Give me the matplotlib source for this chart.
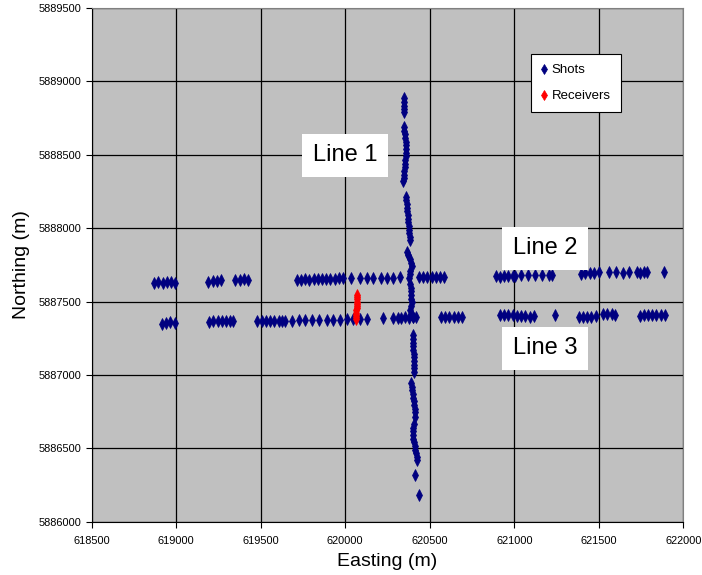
import matplotlib.pyplot as plt
from matplotlib.ticker import MultipleLocator
import numpy as np

# shot points along the three lines (easting, northing in metres)
line1_e = [620345, 620348, 620350, 620347, 620345,
           620347, 620350, 620352, 620355, 620357, 620358, 620360, 620360, 620358, 620356,
           620354, 620352, 620350, 620348, 620345, 620342,
           620358, 620360, 620362, 620364, 620366, 620368, 620370, 620372, 620374, 620376,
           620378, 620380, 620380,
           620365, 620372, 620380, 620390, 620395,
           620385, 620380, 620375, 620385, 620387, 620388, 620390, 620390, 620392, 620388,
           620385, 620390, 620400,
           620398, 620400, 620400, 620402, 620402, 620404, 620404, 620405, 620405, 620406, 620406,
           620388, 620392, 620396, 620400, 620402, 620405, 620408, 620410, 620413, 620415,
           620405, 620402, 620400, 620400, 620402, 620405, 620410, 620415, 620420, 620422, 620422,
           620410, 620437]
line1_n = [5888885, 5888860, 5888835, 5888810, 5888790,
           5888690, 5888665, 5888640, 5888615, 5888590, 5888565, 5888540, 5888515, 5888490, 5888465,
           5888440, 5888415, 5888390, 5888365, 5888340, 5888320,
           5888215, 5888190, 5888165, 5888140, 5888115, 5888090, 5888065, 5888040, 5888015, 5887990,
           5887965, 5887940, 5887920,
           5887840, 5887815, 5887790, 5887765, 5887740,
           5887710, 5887685, 5887660, 5887620, 5887595, 5887570, 5887545, 5887520, 5887495, 5887470,
           5887440, 5887415, 5887395,
           5887270, 5887245, 5887220, 5887195, 5887170, 5887145, 5887120, 5887095, 5887070, 5887045, 5887020,
           5886948, 5886920, 5886895, 5886870, 5886845, 5886820, 5886795, 5886770, 5886745, 5886715,
           5886668, 5886640, 5886615, 5886590, 5886565, 5886540, 5886515, 5886490, 5886465, 5886440, 5886418,
           5886320, 5886185]

line2_e = [618870, 618895, 618920, 618945, 618970, 618995,
           619190, 619215, 619240, 619265,
           619350, 619375, 619400, 619425,
           619712, 619737, 619762, 619787, 619812, 619837, 619862, 619887, 619912, 619937, 619962, 619988,
           620033, 620088, 620128, 620166, 620210, 620246, 620285, 620324,
           620435, 620460, 620485, 620510, 620535, 620560, 620585,
           620890, 620915, 620940, 620965, 620990, 621005,
           621039, 621078, 621121, 621161, 621204, 621224,
           621395, 621420, 621445, 621470,
           621503, 621558, 621601, 621645, 621680, 621724, 621745, 621765, 621787,
           621882]
line2_n = [5887625, 5887630, 5887628, 5887632, 5887630, 5887624,
           5887632, 5887638, 5887640, 5887644,
           5887645, 5887650, 5887652, 5887650,
           5887648, 5887650, 5887652, 5887650, 5887653, 5887655, 5887652, 5887655, 5887656, 5887655, 5887657, 5887658,
           5887660, 5887660, 5887660, 5887662, 5887660, 5887662, 5887662, 5887664,
           5887668, 5887670, 5887666, 5887668, 5887670, 5887668, 5887670,
           5887672, 5887670, 5887674, 5887672, 5887675, 5887676,
           5887680, 5887680, 5887682, 5887682, 5887684, 5887682,
           5887690, 5887693, 5887692, 5887694,
           5887698, 5887698, 5887698, 5887697, 5887698, 5887698, 5887697, 5887700, 5887698,
           5887700]

line3_e = [618915, 618940, 618965, 618990,
           619195, 619220, 619245, 619270, 619295, 619320, 619335,
           619480, 619505, 619530, 619555, 619580, 619605, 619625,
           619645, 619685, 619724, 619763, 619803, 619846, 619891, 619930, 619970, 620009, 620048, 620088, 620128,
           620225, 620284,
           620312, 620332, 620352, 620375, 620400, 620420,
           620565, 620590, 620615, 620640, 620665, 620690,
           620915, 620940, 620965, 620990, 621015, 621040, 621065, 621090, 621115,
           621243,
           621380, 621405, 621430, 621455, 621480,
           621525, 621550, 621575, 621593,
           621740, 621765, 621790, 621815, 621840, 621865, 621892]
line3_n = [5887350, 5887355, 5887358, 5887356,
           5887362, 5887364, 5887364, 5887366, 5887364, 5887366, 5887366,
           5887364, 5887366, 5887368, 5887366, 5887368, 5887368, 5887370,
           5887370, 5887370, 5887372, 5887372, 5887372, 5887374, 5887374, 5887376, 5887376, 5887378, 5887378, 5887380, 5887380,
           5887385, 5887386,
           5887388, 5887390, 5887392, 5887390, 5887392, 5887392,
           5887394, 5887392, 5887395, 5887394, 5887396, 5887395,
           5887408, 5887410, 5887410, 5887406, 5887404, 5887402, 5887400, 5887398, 5887400,
           5887408,
           5887398, 5887396, 5887398, 5887396, 5887400,
           5887412, 5887414, 5887412, 5887410,
           5887402, 5887405, 5887406, 5887408, 5887406, 5887408, 5887410]

# receiver spread
recv_e = [620070, 620070, 620069, 620068, 620068, 620067, 620067, 620066, 620066, 620065, 620065, 620064]
recv_n = [5887545, 5887530, 5887515, 5887500, 5887485, 5887470, 5887455, 5887440, 5887425, 5887410, 5887395, 5887380]

line_labels = ['Line 1', 'Line 2', 'Line 3']
label_e = [620000, 621181, 621181]
label_n = [5888497, 5887863, 5887181]

plt.rcParams['font.family'] = ['Liberation Sans', 'DejaVu Sans']

fig = plt.figure(figsize=(7.02, 5.75), dpi=100)
ax = fig.add_axes([0.1306, 0.0927, 0.8430, 0.8934])
ax.set_facecolor('#C0C0C0')

shots_e = np.concatenate([line1_e, line2_e, line3_e])
shots_n = np.concatenate([line1_n, line2_n, line3_n])
ax.plot(shots_e, shots_n, linestyle='none', marker='d', ms=5.8, color='#000080',
        markeredgewidth=0.5, label='Shots', zorder=3)
ax.plot(recv_e, recv_n, linestyle='none', marker='d', ms=5.8, color='#FF0000',
        markeredgewidth=0.5, label='Receivers', zorder=4)

ax.set_xlim(618500, 622000)
ax.set_ylim(5886000, 5889500)
ax.xaxis.set_major_locator(MultipleLocator(500))
ax.yaxis.set_major_locator(MultipleLocator(500))
ax.ticklabel_format(useOffset=False, style='plain')
ax.grid(True, color='black', linewidth=0.9)
ax.set_axisbelow(True)

for side in ['top', 'right']:
    ax.spines[side].set_color('#808080')
for side in ['left', 'bottom']:
    ax.spines[side].set_color('black')
ax.tick_params(direction='out', length=4, width=0.8, colors='black', labelsize=7.9)
ax.tick_params(axis='y', pad=3)
ax.tick_params(axis='x', pad=6)

ax.set_xlabel('Easting (m)', fontsize=14)
ax.set_ylabel('Northing (m)', fontsize=14)
ax.xaxis.set_label_coords(0.5, -0.060)
ax.yaxis.set_label_coords(-0.104, 0.5)

for txt, e, n in zip(line_labels, label_e, label_n):
    ax.text(e, n, txt, fontsize=17, ha='center', va='center', zorder=5,
            bbox=dict(boxstyle='square,pad=0.45', facecolor='white', edgecolor='none'))

leg = ax.legend(loc='upper left', bbox_to_anchor=(0.742, 0.910), borderaxespad=0,
                fancybox=False, framealpha=1, edgecolor='black', handlelength=0.5,
                handletextpad=0.35, labelspacing=1.05, borderpad=0.75, markerscale=0.8,
                prop={'size': 9.5})
leg.get_frame().set_linewidth(0.8)

fig.savefig('out.png', dpi=100)
